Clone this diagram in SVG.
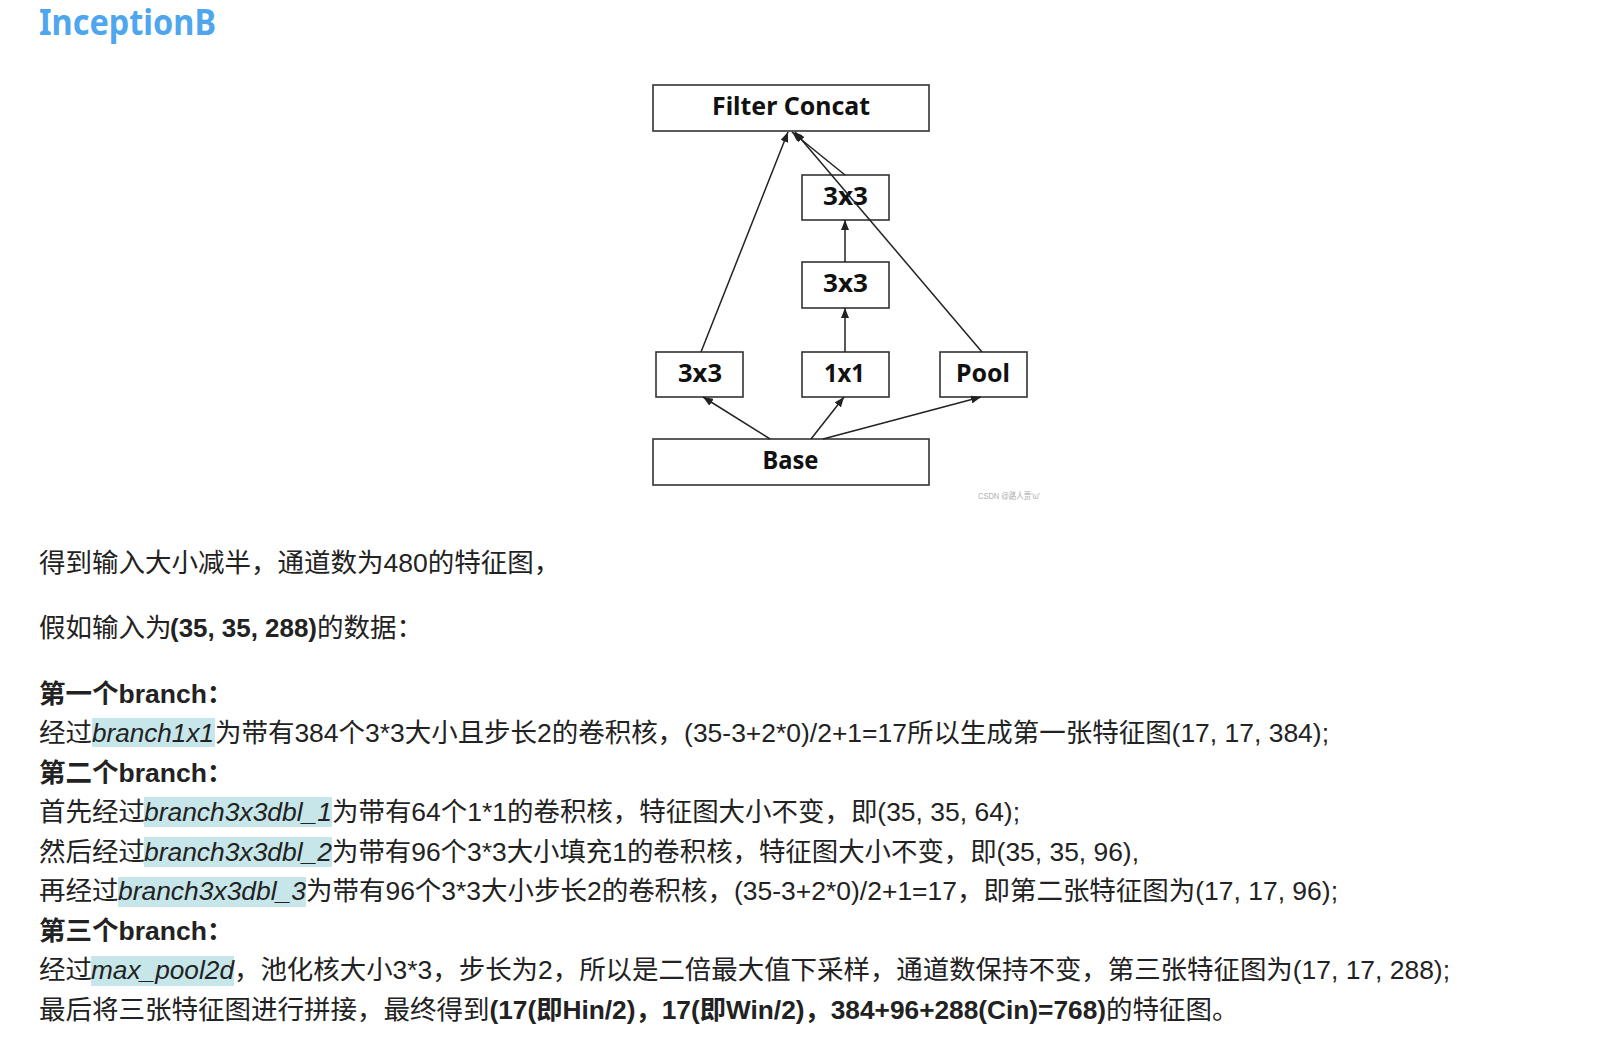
<svg xmlns="http://www.w3.org/2000/svg" width="1599" height="1056" viewBox="0 0 1599 1056">
  <style>
    .title { font-family: "Noto Sans", "Open Sans", sans-serif; font-weight: bold; font-size: 36.5px; fill: #4ea6ee; }
    .box { fill: #ffffff; stroke: #333333; stroke-width: 1.6; }
    .lbl { font-family: "Noto Sans", "Open Sans", sans-serif; font-weight: bold; font-size: 25px; fill: #111111; text-anchor: middle; }
    .edge { stroke: #222222; stroke-width: 1.5; fill: none; marker-end: url(#arrow); }
    .t { font-family: "Liberation Sans", "Noto Sans CJK SC", sans-serif; font-size: 26.5px; fill: #222222; }
    .b { font-weight: bold; }
    .i { font-style: italic; }
    .hl { fill: #c7e6ea; }
    .wm { font-family: "Liberation Sans", "Noto Sans CJK SC", sans-serif; font-size: 9px; fill: #b0b0b0; }
  </style>
  <defs>
    <marker id="arrow" markerUnits="userSpaceOnUse" markerWidth="10" markerHeight="8" refX="10" refY="4" orient="auto">
      <path d="M0,0 L10,4 L0,8 z" fill="#222222"/>
    </marker>
  </defs>

  <rect width="1599" height="1056" fill="#ffffff"/>

  <text class="title" x="39" y="35" textLength="177" lengthAdjust="spacingAndGlyphs">InceptionB</text>

  <!-- nodes -->
  <g id="filter-concat">
    <rect class="box" x="653" y="85" width="276" height="46"/>
    <text class="lbl" x="791" y="115" textLength="158" lengthAdjust="spacingAndGlyphs">Filter Concat</text>
  </g>
  <g id="conv3x3-top">
    <rect class="box" x="802" y="175" width="87" height="45"/>
    <text class="lbl" x="845.5" y="205" textLength="45" lengthAdjust="spacingAndGlyphs">3x3</text>
  </g>
  <g id="conv3x3-mid">
    <rect class="box" x="802" y="262" width="87" height="46"/>
    <text class="lbl" x="845.5" y="292" textLength="45" lengthAdjust="spacingAndGlyphs">3x3</text>
  </g>
  <g id="conv3x3-left">
    <rect class="box" x="656" y="352" width="87" height="45"/>
    <text class="lbl" x="700" y="381.5" textLength="44" lengthAdjust="spacingAndGlyphs">3x3</text>
  </g>
  <g id="conv1x1">
    <rect class="box" x="802" y="352" width="87" height="45"/>
    <text class="lbl" x="844.5" y="381.5" textLength="41" lengthAdjust="spacingAndGlyphs">1x1</text>
  </g>
  <g id="pool">
    <rect class="box" x="940" y="352" width="87" height="45"/>
    <text class="lbl" x="983" y="381.5" textLength="54" lengthAdjust="spacingAndGlyphs">Pool</text>
  </g>
  <g id="base">
    <rect class="box" x="653" y="439" width="276" height="46"/>
    <text class="lbl" x="790.5" y="469" textLength="56" lengthAdjust="spacingAndGlyphs">Base</text>
  </g>

  <!-- connectors, drawn over the boxes (the pool line crosses the upper 3x3) -->
  <g id="connectors">
    <line class="edge" x1="770" y1="439" x2="703" y2="397"/>
    <line class="edge" x1="811" y1="439" x2="844" y2="397"/>
    <line class="edge" x1="823" y1="439" x2="981" y2="397"/>
    <line class="edge" x1="845" y1="352" x2="845" y2="308"/>
    <line class="edge" x1="845" y1="262" x2="845" y2="220"/>
    <line class="edge" x1="701" y1="352" x2="788" y2="132"/>
    <line class="edge" x1="845" y1="175" x2="792" y2="132"/>
    <line class="edge" x1="982" y1="352" x2="795" y2="132"/>
  </g>

  <text class="wm" x="978" y="499" textLength="62" lengthAdjust="spacingAndGlyphs">CSDN @路人贾'ω'</text>

  <!-- description text -->
  <g id="description">
    <rect class="hl" x="92" y="718" width="123" height="29"/>
    <rect class="hl" x="144" y="797" width="188" height="30"/>
    <rect class="hl" x="144" y="837" width="188" height="30"/>
    <rect class="hl" x="118" y="877" width="188" height="30"/>
    <rect class="hl" x="91" y="956" width="143" height="30"/>

    <text class="t" x="39" y="572">得到输入大小减半，通道数为480的特征图，</text>

    <text class="t" x="39" y="637">假如输入为</text>
    <text class="t b" x="170" y="637" textLength="147" lengthAdjust="spacingAndGlyphs">(35, 35, 288)</text>
    <text class="t" x="317" y="637">的数据：</text>

    <text class="t b" x="39" y="703">第一个branch：</text>
    <text class="t" x="39" y="742">经过</text>
    <text class="t i" x="92" y="742" textLength="122" lengthAdjust="spacingAndGlyphs">branch1x1</text>
    <text class="t" x="215" y="742" textLength="1114" lengthAdjust="spacingAndGlyphs">为带有384个3*3大小且步长2的卷积核，(35-3+2*0)/2+1=17所以生成第一张特征图(17, 17, 384);</text>

    <text class="t b" x="39" y="782">第二个branch：</text>
    <text class="t" x="39" y="821">首先经过</text>
    <text class="t i" x="144" y="821" textLength="188" lengthAdjust="spacingAndGlyphs">branch3x3dbl_1</text>
    <text class="t" x="332" y="821" textLength="688" lengthAdjust="spacingAndGlyphs">为带有64个1*1的卷积核，特征图大小不变，即(35, 35, 64);</text>
    <text class="t" x="39" y="861">然后经过</text>
    <text class="t i" x="144" y="861" textLength="188" lengthAdjust="spacingAndGlyphs">branch3x3dbl_2</text>
    <text class="t" x="332" y="861" textLength="807" lengthAdjust="spacingAndGlyphs">为带有96个3*3大小填充1的卷积核，特征图大小不变，即(35, 35, 96),</text>
    <text class="t" x="39" y="900">再经过</text>
    <text class="t i" x="118" y="900" textLength="188" lengthAdjust="spacingAndGlyphs">branch3x3dbl_3</text>
    <text class="t" x="306" y="900" textLength="1032" lengthAdjust="spacingAndGlyphs">为带有96个3*3大小步长2的卷积核，(35-3+2*0)/2+1=17，即第二张特征图为(17, 17, 96);</text>

    <text class="t b" x="39" y="940">第三个branch：</text>
    <text class="t" x="39" y="979">经过</text>
    <text class="t i" x="91" y="979" textLength="143" lengthAdjust="spacingAndGlyphs">max_pool2d</text>
    <text class="t" x="234" y="979" textLength="1216" lengthAdjust="spacingAndGlyphs">，池化核大小3*3，步长为2，所以是二倍最大值下采样，通道数保持不变，第三张特征图为(17, 17, 288);</text>

    <text class="t" x="39" y="1019">最后将三张特征图进行拼接，最终得到</text>
    <text class="t b" x="489.5" y="1019" textLength="616.5" lengthAdjust="spacingAndGlyphs">(17(即Hin/2)，17(即Win/2)，384+96+288(Cin)=768)</text>
    <text class="t" x="1106" y="1019">的特征图。</text>
  </g>
</svg>
